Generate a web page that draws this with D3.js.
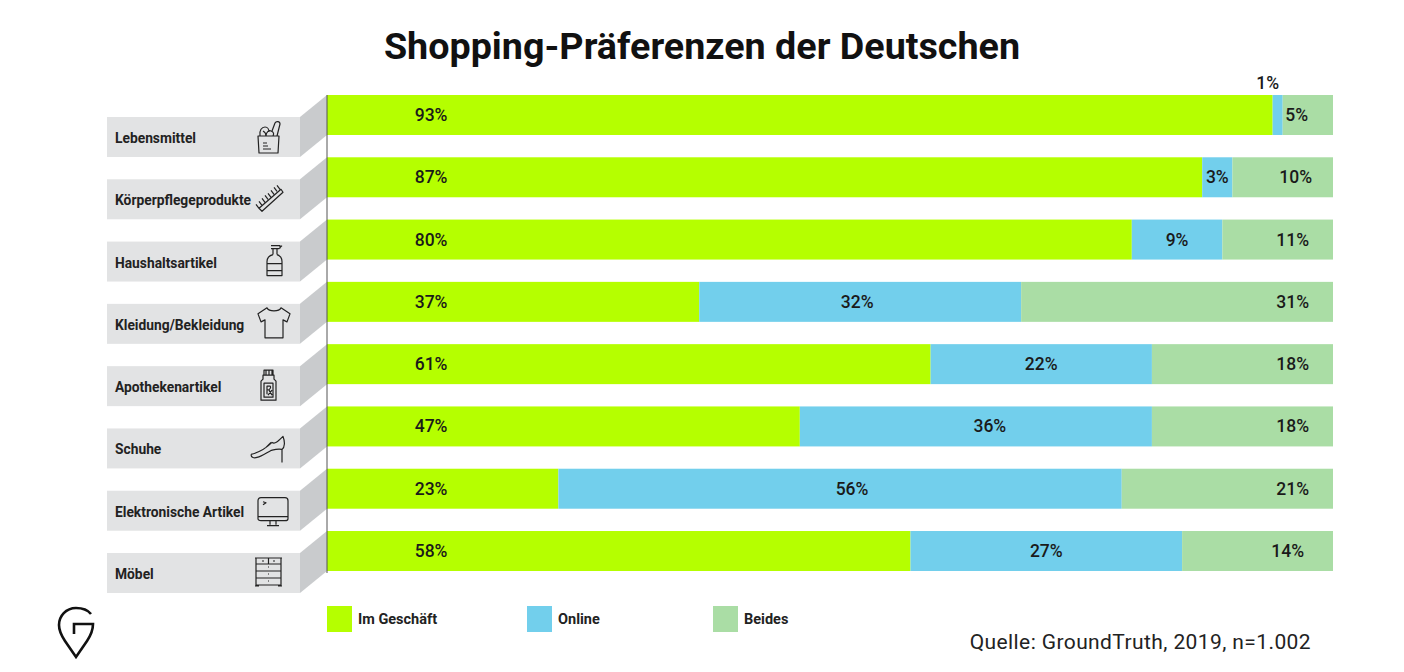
<!DOCTYPE html>
<html>
<head>
<meta charset="utf-8">
<title>Shopping-Präferenzen der Deutschen</title>
<script src="https://cdn.jsdelivr.net/npm/d3@7"></script>
<style>
  html, body { margin: 0; padding: 0; background: #fff; }
  svg { display: block; font-family: Roboto, sans-serif; }
</style>
</head>
<body>
<svg id="chart" width="1404" height="672"></svg>
<script>
// Categories and values
var categories = ["Lebensmittel", "Körperpflegeprodukte", "Haushaltsartikel", "Kleidung/Bekleidung",
  "Apothekenartikel", "Schuhe", "Elektronische Artikel", "Möbel"];
var seriesNames = ["Im Geschäft", "Online", "Beides"];

// Printed percentages (they do not always add up to 100)
var storeLabels = [93, 87, 80, 37, 61, 47, 23, 58];
var onlineLabels = [1, 3, 9, 32, 22, 36, 56, 27];
var bothLabels = [5, 10, 11, 31, 18, 18, 21, 14];

// Segment lengths as drawn in the picture
var storeValues = [94, 87, 80, 37, 60, 47, 23, 58];
var onlineValues = [1, 3, 9, 32, 22, 35, 56, 27];
var bothValues = [5, 10, 11, 31, 18, 18, 21, 15];

var colors = ["#b5ff00", "#72cfec", "#aadda5"];

var svg = d3.select("#chart");

var x = d3.scaleLinear().domain([0, 100]).range([327, 1333]);
var y = d3.scaleBand().domain(categories).range([95, 571]).paddingInner(0.358);
var color = d3.scaleOrdinal().domain(seriesNames).range(colors);

var rows = categories.map((name, i) => ({
  name: name,
  "Im Geschäft": storeValues[i],
  "Online": onlineValues[i],
  "Beides": bothValues[i]
}));
var stacked = d3.stack().keys(seriesNames)(rows);

// Title
svg.append("text")
  .attr("x", 702).attr("y", 59)
  .attr("text-anchor", "middle")
  .attr("font-size", 37.7).attr("font-weight", 700)
  .attr("fill", "#111")
  .text("Shopping-Präferenzen der Deutschen");

// Grey plates with the slanted side
var drop = 22;
var plateLeft = 107, plateRight = 300;
var plates = svg.append("g").selectAll("g").data(categories).join("g");

plates.append("path")
  .attr("fill", "#c9cbcd")
  .attr("d", d => {
    var top = y(d), h = y.bandwidth();
    return d3.line()([[plateRight, top + drop], [x(0), top], [x(0), top + h], [plateRight, top + h + drop]]) + "Z";
  });

plates.append("rect")
  .attr("x", plateLeft).attr("y", d => y(d) + drop)
  .attr("width", plateRight - plateLeft).attr("height", y.bandwidth())
  .attr("fill", "#e2e3e4");

plates.append("text")
  .attr("x", 115).attr("y", d => y(d) + drop + 26)
  .attr("font-size", 13.8).attr("font-weight", 700)
  .attr("fill", "#222")
  .text(d => d);

// Bars
svg.append("g").selectAll("g").data(stacked).join("g")
  .attr("fill", s => color(s.key))
  .selectAll("rect").data(s => s).join("rect")
  .attr("x", d => x(d[0]))
  .attr("y", d => y(d.data.name))
  .attr("width", d => x(d[1]) - x(d[0]))
  .attr("height", y.bandwidth());

// Axis line
svg.append("line")
  .attr("x1", x(0)).attr("x2", x(0))
  .attr("y1", y.range()[0]).attr("y2", y.range()[1] + 2)
  .attr("stroke", "#555").attr("stroke-width", 1);

// Value labels
function addLabels(labels, xPos, yShift) {
  svg.append("g").selectAll("text").data(labels).join("text")
    .attr("x", (d, i) => xPos(i))
    .attr("y", (d, i) => y(categories[i]) + y.bandwidth() / 2 + 6 + yShift(i))
    .attr("text-anchor", "middle")
    .attr("font-size", 17.5).attr("font-weight", 500)
    .attr("fill", "#1a1a1a")
    .text(d => d + "%");
}

// small shifts so the labels sit where the original has them
var onlineShift = [-10, 0, 0, -3, 0, 14, 12, 0];
var bothShift = [4, 3, 0, 0, 0, 0, 0, -5];

addLabels(storeLabels, () => x(10.35), () => 0);
addLabels(onlineLabels,
  i => (x(stacked[1][i][0]) + x(stacked[1][i][1])) / 2 + onlineShift[i],
  i => i === 0 ? -32 : 0);
addLabels(bothLabels, i => x(96) + bothShift[i], () => 0);

// Icons, drawn from their own top left corner
var icons = [
  { dx: 150, dy: 4, d: "M1 15H22L21 32H2ZM3 15C2 9 5 6 8 6C11 6 12 9 12 11M9 15C9 11 12 9 14 10C17 11 17 13 16 15M15 10L18 2C19 0 23 0 23 3L20 15M6 22H10M6 25H11M6 28H14M6 10C8 11 9 12 9 15" },
  { dx: 149, dy: 2, d: "M3 27L25 8L27 11L6 30ZM3 27L0 23M6 24L3 20M9 21L6 17M12 18L9 14M15 16L12 12M18 13L15 9M21 10L18 6M24 8L21 4" },
  { dx: 159, dy: 3, d: "M5 4H13L16 1M5 1H14V4M7 4V10M11 4V10M7 10C3 11 1 13 1 17V31H16V17C16 13 14 11 11 10M1 19H16M1 26H16" },
  { dx: 150, dy: 3, d: "M10 1L1 7L4 15L8 13V31H26V13L30 15L33 7L24 1C22 5 12 5 10 1Z" },
  { dx: 153, dy: 3, d: "M4 1H13V6H4ZM6 1V6M9 1V6M12 1V6M3 6H14V10L16 12V31H1V12L3 10ZM4 14H13V28H4ZM7 17H10C11 17 11 21 7 21ZM7 17V25M9 21L12 26M12 21L8 26" },
  { dx: 144, dy: 7, d: "M0 19C8 17 16 12 21 7C24 9 27 6 32 1C34 6 34 12 31 14L31 27M0 19C0 22 3 23 6 22C11 21 16 17 20 15C24 14 27 13 31 14M20 7L15 12" },
  { dx: 151, dy: 7, d: "M3 0H27C29 0 30 1 30 3V21C30 22 29 23 27 23H3C1 23 0 22 0 21V3C0 1 1 0 3 0ZM0 19H30M12 23V27M18 23V27M9 28H21M5 4L8 5L5 7" },
  { dx: 148, dy: 4, d: "M0 1H27M1 1V29M26 1V29M1 7H26M1 14H26M1 21H26M1 28H26M13.5 1V7M0 29H4M23 29H27M7 4H9M18 4H20M13 10H14M13 17H14M13 24H14" }
];

svg.append("g").selectAll("path").data(icons).join("path")
  .attr("transform", (d, i) => `translate(${plateLeft + d.dx},${y(categories[i]) + drop + d.dy})`)
  .attr("d", d => d.d)
  .attr("fill", "none").attr("stroke", "#222").attr("stroke-width", 1.2)
  .attr("stroke-linejoin", "round");

// Legend
var legendX = [x(0), 527, 713];
var legend = svg.append("g").selectAll("g").data(seriesNames).join("g")
  .attr("transform", (d, i) => `translate(${legendX[i]},606)`);
legend.append("rect")
  .attr("width", 25).attr("height", 26)
  .attr("fill", d => color(d));
legend.append("text")
  .attr("x", 31).attr("y", 18)
  .attr("font-size", 14.5).attr("font-weight", 700)
  .attr("fill", "#222")
  .text(d => d);

// Source
svg.append("text")
  .attr("x", 1311).attr("y", 649)
  .attr("text-anchor", "end")
  .attr("font-size", 21).attr("letter-spacing", 0.4)
  .attr("fill", "#222")
  .text("Quelle: GroundTruth, 2019, n=1.002");

// Logo
svg.append("path")
  .attr("transform", "translate(58,607)")
  .attr("d", "M33 7C29 2 24 1 18 1C8 1 1 9 1 18C1 24 3 28 7 34L18 50L29 34C33 28 35 24 35 17H16V27")
  .attr("fill", "none").attr("stroke", "#111").attr("stroke-width", 2.6);
</script>
</body>
</html>
